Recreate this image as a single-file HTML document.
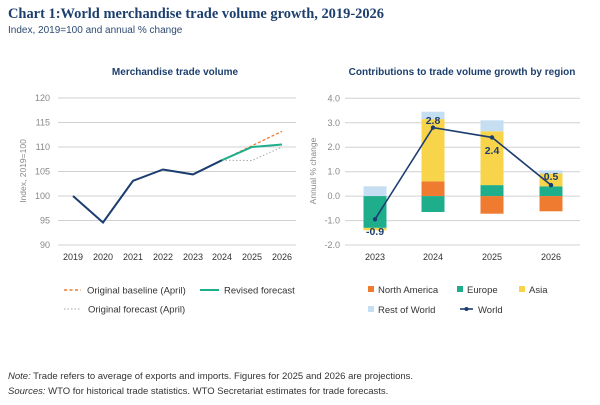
<!DOCTYPE html>
<html><head><meta charset="utf-8"><style>
body{margin:0;background:#fff;width:600px;height:400px;overflow:hidden;font-family:"Liberation Sans",sans-serif}
</style></head><body>
<svg width="600" height="400" xmlns="http://www.w3.org/2000/svg" font-family="Liberation Sans, sans-serif">
<text x="8" y="18" font-family="Liberation Serif, serif" font-weight="bold" font-size="15" fill="#1d3f6e" textLength="376" lengthAdjust="spacingAndGlyphs">Chart 1:World merchandise trade volume growth, 2019-2026</text>
<text x="8" y="33" font-size="10" fill="#2d4a72">Index, 2019=100 and annual % change</text>

<text x="175" y="75" font-size="10" font-weight="bold" fill="#1d3f6e" text-anchor="middle">Merchandise trade volume</text>
<g stroke="#d0d0d0" stroke-width="1">
<line x1="58" x2="296" y1="98" y2="98"/><line x1="58" x2="296" y1="122.5" y2="122.5"/><line x1="58" x2="296" y1="147" y2="147"/><line x1="58" x2="296" y1="171.5" y2="171.5"/><line x1="58" x2="296" y1="196" y2="196"/><line x1="58" x2="296" y1="220.5" y2="220.5"/><line x1="58" x2="296" y1="245" y2="245"/>
</g>
<g font-size="9" fill="#888" text-anchor="end">
<text x="50" y="101">120</text><text x="50" y="125.5">115</text><text x="50" y="150">110</text><text x="50" y="174.5">105</text><text x="50" y="199">100</text><text x="50" y="223.5">95</text><text x="50" y="248">90</text>
</g>
<text transform="translate(26,171) rotate(-90)" font-size="8.5" fill="#888" text-anchor="middle">Index, 2019=100</text>
<g font-size="9" fill="#333" text-anchor="middle">
<text x="73" y="260">2019</text><text x="103" y="260">2020</text><text x="133" y="260">2021</text><text x="163" y="260">2022</text><text x="193" y="260">2023</text><text x="222" y="260">2024</text><text x="252" y="260">2025</text><text x="282" y="260">2026</text>
</g>
<polyline points="222,160.2 252,160.5 282,147" fill="none" stroke="#aaa" stroke-width="1" stroke-dasharray="1.5,2"/>
<polyline points="222,160.2 282,131.3" fill="none" stroke="#ee7b30" stroke-width="1.3" stroke-dasharray="3,2"/>
<polyline points="222,160.2 252,147 282,144.5" fill="none" stroke="#1fae8b" stroke-width="2"/>
<polyline points="73,196 103,222.5 133,180.8 163,169.5 193,174.4 222,160.2" fill="none" stroke="#1b3d70" stroke-width="2"/>

<text x="462" y="75" font-size="10" font-weight="bold" fill="#1d3f6e" text-anchor="middle">Contributions to trade volume growth by region</text>
<g stroke="#d0d0d0" stroke-width="1">
<line x1="345" x2="580" y1="98.3" y2="98.3"/><line x1="345" x2="580" y1="122.8" y2="122.8"/><line x1="345" x2="580" y1="147.2" y2="147.2"/><line x1="345" x2="580" y1="171.7" y2="171.7"/><line x1="345" x2="580" y1="196.1" y2="196.1"/><line x1="345" x2="580" y1="220.6" y2="220.6"/><line x1="345" x2="580" y1="245" y2="245"/>
</g>
<g font-size="9" fill="#888" text-anchor="end">
<text x="340" y="101.3">4.0</text><text x="340" y="125.8">3.0</text><text x="340" y="150.2">2.0</text><text x="340" y="174.7">1.0</text><text x="340" y="199.1">0.0</text><text x="340" y="223.6">-1.0</text><text x="340" y="248">-2.0</text>
</g>
<text transform="translate(316,171) rotate(-90)" font-size="8.5" fill="#888" text-anchor="middle">Annual % change</text>
<g font-size="9" fill="#333" text-anchor="middle">
<text x="375" y="260">2023</text><text x="433" y="260">2024</text><text x="492" y="260">2025</text><text x="551" y="260">2026</text>
</g>
<g>
<rect x="363.5" y="186.3" width="23" height="9.8" fill="#c6def2"/>
<rect x="363.5" y="196.1" width="23" height="31.8" fill="#1fae8b"/>
<rect x="363.5" y="227.9" width="23" height="2.4" fill="#f7d44a"/>

<rect x="421.5" y="181.4" width="23" height="14.7" fill="#ee7b30"/>
<rect x="421.5" y="119.1" width="23" height="62.3" fill="#f7d44a"/>
<rect x="421.5" y="111.7" width="23" height="7.4" fill="#c6def2"/>
<rect x="421.5" y="196.1" width="23" height="15.9" fill="#1fae8b"/>

<rect x="480.5" y="185.1" width="23" height="11" fill="#1fae8b"/>
<rect x="480.5" y="131.3" width="23" height="53.8" fill="#f7d44a"/>
<rect x="480.5" y="120.3" width="23" height="11" fill="#c6def2"/>
<rect x="480.5" y="196.1" width="23" height="17.6" fill="#ee7b30"/>

<rect x="539.5" y="186.3" width="23" height="9.8" fill="#1fae8b"/>
<rect x="539.5" y="173.6" width="23" height="12.7" fill="#f7d44a"/>
<rect x="539.5" y="170.4" width="23" height="3.2" fill="#c6def2"/>
<rect x="539.5" y="196.1" width="23" height="15.2" fill="#ee7b30"/>
</g>
<polyline points="375,219.3 433,127.6 492,137.4 551,185.1" fill="none" stroke="#1b3d70" stroke-width="1.6"/>
<g fill="#1b3d70"><circle cx="375" cy="219.3" r="2.2"/><circle cx="433" cy="127.6" r="2.2"/><circle cx="492" cy="137.4" r="2.2"/><circle cx="551" cy="185.1" r="2.2"/></g>
<g font-size="10.5" font-weight="bold" fill="#1b3d70" text-anchor="middle">
<text x="375" y="235">-0.9</text><text x="433" y="124">2.8</text><text x="492" y="154">2.4</text><text x="551" y="180">0.5</text>
</g>

<g font-size="9.5" fill="#333">
<line x1="64" x2="81" y1="290" y2="290" stroke="#ee7b30" stroke-width="1.5" stroke-dasharray="3,2.5"/>
<text x="87" y="293.5">Original baseline (April)</text>
<line x1="200" x2="219" y1="290" y2="290" stroke="#1fae8b" stroke-width="2"/>
<text x="224" y="293.5">Revised forecast</text>
<line x1="64" x2="81" y1="309" y2="309" stroke="#aaa" stroke-width="1" stroke-dasharray="1.5,2"/>
<text x="88" y="312.5">Original forecast (April)</text>

<rect x="368" y="286" width="6" height="6" fill="#ee7b30"/><text x="378" y="293">North America</text>
<rect x="457" y="286" width="6" height="6" fill="#1fae8b"/><text x="467" y="293">Europe</text>
<rect x="519" y="286" width="6" height="6" fill="#f7d44a"/><text x="529" y="293">Asia</text>
<rect x="368" y="306" width="6" height="6" fill="#c6def2"/><text x="378" y="313">Rest of World</text>
<line x1="460" x2="473" y1="309" y2="309" stroke="#1b3d70" stroke-width="1.6"/><circle cx="466.5" cy="309" r="2" fill="#1b3d70"/>
<text x="478" y="313">World</text>
</g>

<g font-size="9.5" fill="#333">
<text x="8" y="379"><tspan font-style="italic">Note:</tspan> Trade refers to average of exports and imports. Figures for 2025 and 2026 are projections.</text>
<text x="8" y="394"><tspan font-style="italic">Sources:</tspan> WTO for historical trade statistics. WTO Secretariat estimates for trade forecasts.</text>
</g>
</svg>
</body></html>
